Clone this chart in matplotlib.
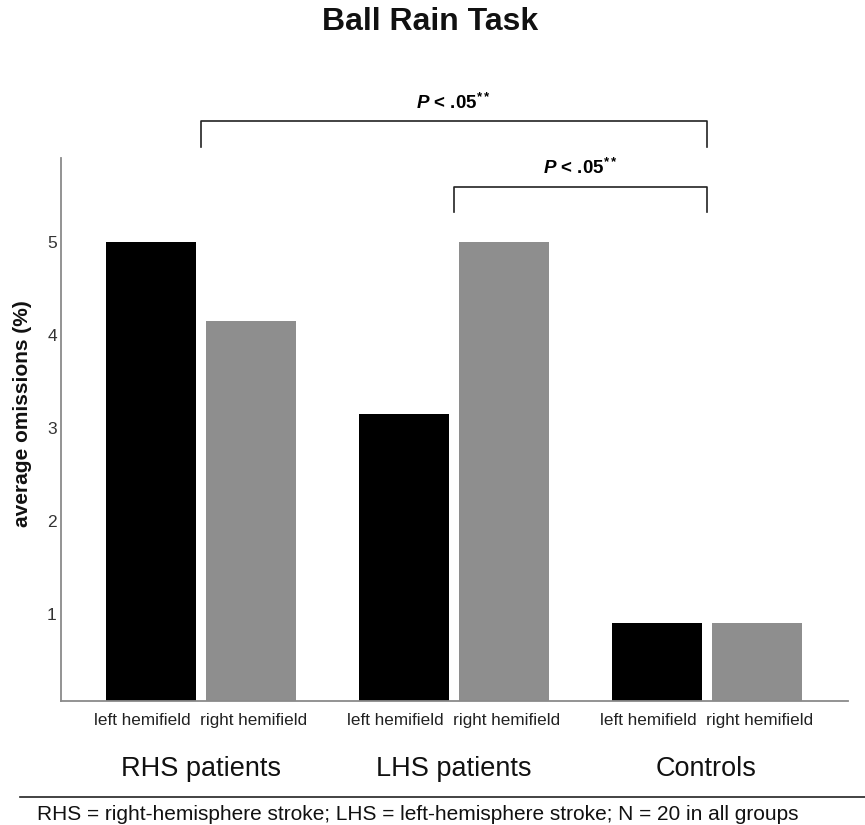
import numpy as np
import matplotlib
matplotlib.use("Agg")
import matplotlib.pyplot as plt
from matplotlib.transforms import blended_transform_factory

plt.rcParams["font.family"] = ["Liberation Sans", "DejaVu Sans"]
plt.rcParams["mathtext.fontset"] = "custom"
plt.rcParams["mathtext.rm"] = "Liberation Sans"
plt.rcParams["mathtext.bf"] = "Liberation Sans:bold"
plt.rcParams["mathtext.it"] = "Liberation Sans:italic"
plt.rcParams["mathtext.bfit"] = "Liberation Sans:bold:italic"

# ---- data ------------------------------------------------------------------
groups = ["RHS patients", "LHS patients", "Controls"]
hemifields = ["left hemifield", "right hemifield"]
left_vals = [5.0, 3.15, 0.9]
right_vals = [4.15, 5.0, 0.9]
yticks = [1, 2, 3, 4, 5]
# significance brackets: (group index a, group index b, label)
brackets = [(0, 2, r"$\mathbfit{P}$ < .05$^{\mathbf{**}}$"),
            (1, 2, r"$\mathbfit{P}$ < .05$^{\mathbf{**}}$")]

# ---- figure ----------------------------------------------------------------
fig = plt.figure(figsize=(8.65, 8.25), dpi=100)
ax = fig.add_axes([0.0705, 0.1507, 0.9095, 0.6578])

x = np.arange(len(groups))
off, width = 0.1976, 0.356
ax.bar(x - off, left_vals, width, color="black")
ax.bar(x + off, right_vals, width, color="#8e8e8e")

ax.set_xlim(-0.552, 2.558)
ax.set_ylim(0.07, 5.9)
ax.set_yticks(yticks)
ax.set_yticklabels([str(t) for t in yticks], fontsize=12.5, color="#333333")
ax.tick_params(axis="y", length=0, pad=3)
ax.set_xticks(x)
ax.set_xticklabels(["  ".join(hemifields)] * len(groups), fontsize=12.3, color="#222222")
ax.tick_params(axis="x", length=0, pad=9)

for side in ("top", "right"):
    ax.spines[side].set_visible(False)
for side in ("left", "bottom"):
    ax.spines[side].set_color("#8a8a8a")
    ax.spines[side].set_linewidth(1.3)

# y axis title placed like the original (close to the tick labels)
fig.text(23 / 865, 1 - 414 / 825, "average omissions (%)", rotation=90,
         ha="center", va="center", fontsize=15, fontweight="bold", color="#111111")

# group names under the hemifield labels
trans = blended_transform_factory(ax.transData, fig.transFigure)
for xi, g in zip(x, groups):
    ax.text(xi, 1 - 769 / 825, g, transform=trans, ha="center", va="center",
            fontsize=19.5, color="#111111")

# significance brackets
levels = [(6.3, 6.02, 6.49), (5.59, 5.32, 5.79)]
for (a, b, label), (ytop, yend, ytxt) in zip(brackets, levels):
    ax.plot([a, a, b, b], [yend, ytop, ytop, yend], color="#222222", lw=1.2,
            clip_on=False)
    ax.text((a + b) / 2, ytxt, label, ha="center", va="center", fontsize=13.5,
            fontweight="bold", clip_on=False)

fig.text(0.497, 1 - 22 / 825, "Ball Rain Task", ha="center", va="center",
         fontsize=23, fontweight="bold", color="#111111")

# footer rule and note
fig.add_artist(plt.Line2D([20 / 865, 1], [1 - 797 / 825] * 2, color="#222222", lw=1.2,
                          transform=fig.transFigure))
fig.text(37 / 865, 1 - 814 / 825,
         "RHS = right-hemisphere stroke; LHS = left-hemisphere stroke; N = 20 in all groups",
         ha="left", va="center", fontsize=15, color="#111111")

fig.savefig("out.png", dpi=100)
